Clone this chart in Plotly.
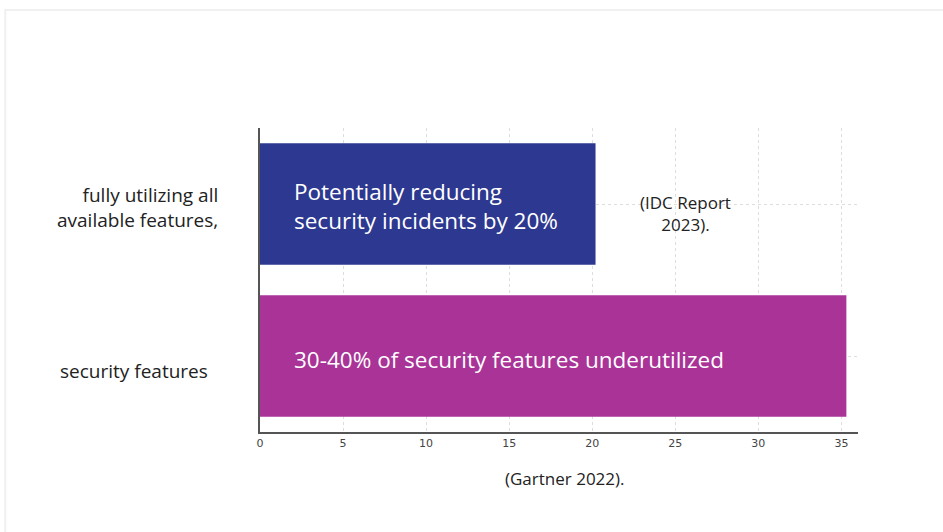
import plotly.graph_objects as go

categories = ["security features", "fully utilizing all available features,"]
values = [35.3, 20.2]
bar_texts = ["30-40% of security features underutilized",
             "Potentially reducing<br>security incidents by 20%"]
labels = ["security features", "fully utilizing all<br>available features,"]
bar_colors = ["#A93397", "#2D3890"]
tick_vals = [0, 5, 10, 15, 20, 25, 30, 35]
idc_note = "(IDC Report<br>2023)."
gartner_note = "(Gartner 2022)."

FONT = "Open Sans"

fig = go.Figure()
fig.add_trace(go.Bar(
    x=values, y=[0, 1], orientation="h", width=0.8,
    marker=dict(color=bar_colors, line=dict(width=0)),
    hoverinfo="skip", showlegend=False,
))

fig.update_layout(
    width=943, height=532,
    margin=dict(l=260, r=85, t=128, b=100),
    paper_bgcolor="white", plot_bgcolor="white",
    font=dict(family=FONT, color="#222"),
    xaxis=dict(range=[0, 36], tickvals=tick_vals, ticktext=[str(v) for v in tick_vals],
               showgrid=True, gridcolor="#dddddd", griddash="dot", gridwidth=1,
               showline=True, linecolor="#555", linewidth=1.5,
               ticks="", tickfont=dict(family="DejaVu Sans", size=11, color="#444"),
               zeroline=False, fixedrange=True),
    yaxis=dict(range=[-0.5, 1.5], tickvals=[0, 1], showticklabels=False,
               showgrid=True, gridcolor="#dddddd", griddash="dot", gridwidth=1,
               showline=True, linecolor="#555", linewidth=1.5,
               zeroline=False, fixedrange=True),
)

# in-bar texts
bar_shifts = [-3, -2]
for i, t in enumerate(bar_texts):
    fig.add_annotation(x=1.95, y=i, xref="x", yref="y", yshift=bar_shifts[i], text=t,
                       showarrow=False, xanchor="left", yanchor="middle", align="left",
                       font=dict(family=FONT, size=22.5, color="white"))

# category labels
label_shifts = [-15, -3.5]
label_x = [-0.0836, -0.0669]
for i, t in enumerate(labels):
    fig.add_annotation(x=label_x[i], y=i, xref="paper", yref="y", yshift=label_shifts[i], text=t,
                       showarrow=False, xanchor="right", yanchor="middle", align="right",
                       font=dict(family=FONT, size=19, color="#222"))

# source notes
fig.add_annotation(x=25.6, y=1, xref="x", yref="y", yshift=-9.5, text=idc_note,
                   showarrow=False, xanchor="center", yanchor="middle", align="center",
                   font=dict(family=FONT, size=17, color="#222"))
fig.add_annotation(x=(565 - 260) / 598, y=(432 - 478) / 304, xref="paper", yref="paper",
                   text=gartner_note, showarrow=False,
                   xanchor="center", yanchor="middle",
                   font=dict(family=FONT, size=17, color="#222"))

# faint card edge
fig.add_shape(type="rect", xref="paper", yref="paper", x0=-0.426, x1=1.2, y0=-0.4, y1=1.388,
              line=dict(color="#f0f0f0", width=2), fillcolor="rgba(0,0,0,0)", layer="below")

fig.write_html("out.html")
